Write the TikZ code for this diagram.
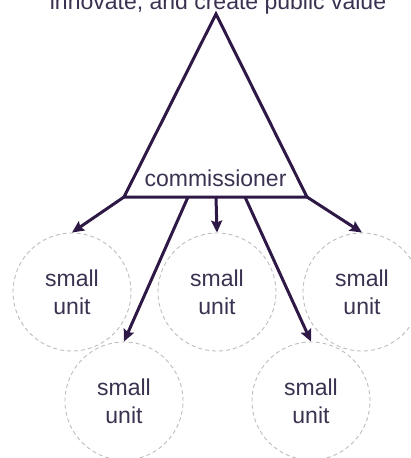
\documentclass[tikz,border=0pt]{standalone}
\usepackage{fontspec}
\setmainfont{Liberation Sans}
\usetikzlibrary{arrows.meta}
\definecolor{lineC}{HTML}{2D1846}
\definecolor{textC}{HTML}{3B3150}
\definecolor{dashC}{HTML}{BDBDBD}
\tikzset{
  conn/.style={draw=lineC, line width=3pt, -{Stealth[length=12pt,width=11pt,inset=2pt]}},
  tri/.style={draw=lineC, line width=3pt, line join=miter},
  unit/.style={circle, draw=dashC, line width=0.9pt, dash pattern=on 4pt off 3pt,
    minimum size=118pt, inner sep=0pt, text=textC, align=center,
    font=\fontsize{23}{28}\selectfont},
  lbl/.style={text=textC, font=\fontsize{23}{28}\selectfont, inner sep=0pt}
}
\begin{document}
\begin{tikzpicture}[x=1pt,y=-1pt]
\useasboundingbox (0,0) rectangle (411,458);
% top label (cut by the page edge)
\node[lbl, anchor=base] (goal) at (218,9) {innovate, and create public value};
% triangle
\coordinate (apex) at (216,14);
\coordinate (bl) at (124,197);
\coordinate (br) at (307,197);
\draw[tri] (bl) -- (apex) -- (br) -- cycle;
\node[lbl, anchor=base] (comm) at (215.5,186) {commissioner};
% start points on the base
\coordinate (s2) at (188,197);
\coordinate (s3) at (216,197);
\coordinate (s4) at (245,197);
% small units
\node[unit] (u1) at (72,292) {small\\unit};
\node[unit] (u2) at (217,292) {small\\unit};
\node[unit] (u3) at (362,292) {small\\unit};
\node[unit] (u4) at (124,401) {small\\unit};
\node[unit] (u5) at (311,401) {small\\unit};
% connectors
\draw[conn] (bl) -- (u1.north);
\draw[conn] (s3) -- (u2.north);
\draw[conn] (br) -- (u3.north);
\draw[conn] (s2) -- (u4.north);
\draw[conn] (s4) -- (u5.north);
\end{tikzpicture}
\end{document}
